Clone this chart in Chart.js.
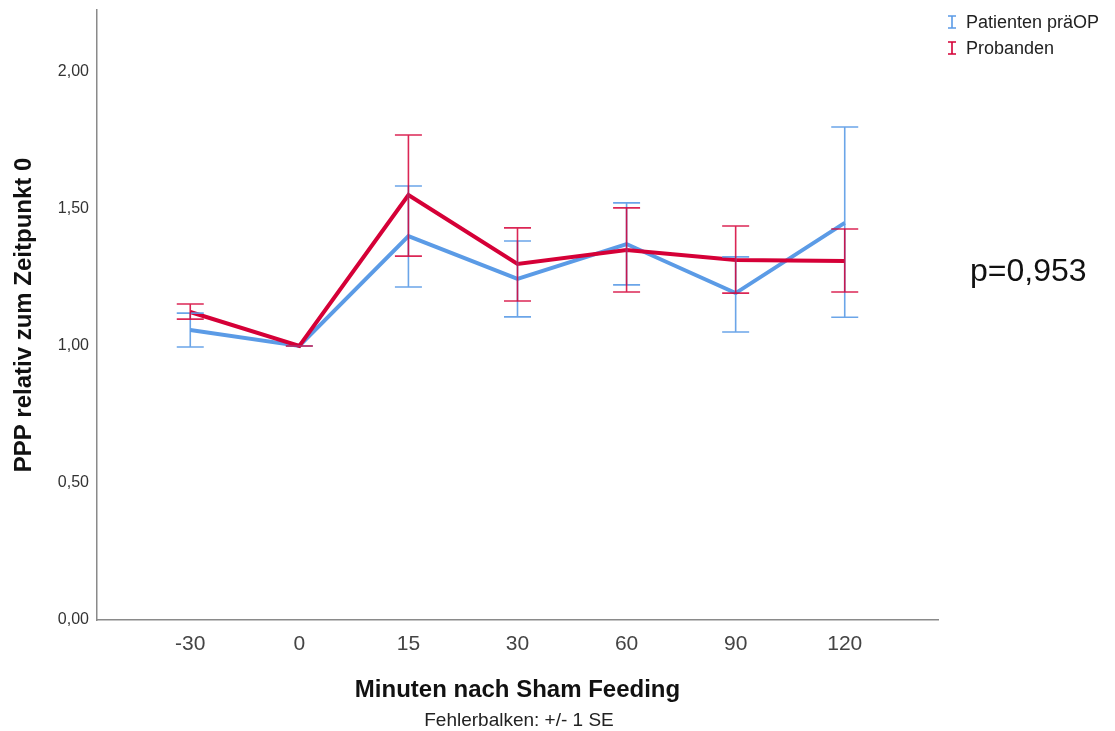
<!DOCTYPE html>
<html>
<head>
<meta charset="utf-8">
<script src="https://cdn.jsdelivr.net/npm/chart.js@4/dist/chart.umd.min.js"></script>
<style>
  html, body { margin: 0; padding: 0; background: #fff; }
  #wrap { position: relative; width: 1115px; height: 731px; font-family: "Liberation Sans", Arial, sans-serif; }
  #c { position: absolute; left: 0; top: 0; }
  .legend { position: absolute; left: 946px; top: 9px; font-size: 18px; color: #222; }
  .legend .row { display: flex; align-items: center; height: 26px; }
  .legend svg { margin-right: 8px; }
  #pval { position: absolute; left: 970px; top: 252px; font-size: 32px; color: #111; }
  #note { position: absolute; left: 369px; width: 300px; text-align: center; top: 709px; font-size: 19px; color: #222; }
</style>
</head>
<body>
<div id="wrap">
  <canvas id="c" width="1115" height="731"></canvas>
  <div class="legend">
    <div class="row"><svg width="12" height="16"><path d="M2 2H10M6 2V14M2 14H10" stroke="#5B9BE6" stroke-width="1.6" fill="none"/></svg><span>Patienten präOP</span></div>
    <div class="row"><svg width="12" height="16"><path d="M2 2H10M6 2V14M2 14H10" stroke="#D50037" stroke-width="1.6" fill="none"/></svg><span>Probanden</span></div>
  </div>
  <div id="pval">p=0,953</div>
  <div id="note">Fehlerbalken: +/- 1 SE</div>
</div>
<script>
const categories = ["-30", "0", "15", "30", "60", "90", "120"];
const patientenMean = [1.058, 1.000, 1.401, 1.245, 1.372, 1.193, 1.449];
const patientenLow  = [0.996, 1.000, 1.215, 1.106, 1.223, 1.051, 1.105];
const patientenHigh = [1.120, 1.000, 1.584, 1.383, 1.522, 1.325, 1.799];
const probandenMean = [1.124, 1.000, 1.551, 1.299, 1.350, 1.314, 1.310];
const probandenLow  = [1.098, 1.000, 1.328, 1.164, 1.197, 1.193, 1.197];
const probandenHigh = [1.153, 1.000, 1.770, 1.431, 1.504, 1.438, 1.427];
const yTicks = [0, 0.5, 1.0, 1.5, 2.0];

const BLUE = "#5B9BE6";
const RED = "#D50037";

function pts(arr) { return arr.map((v, i) => ({ x: i, y: v })); }

const errorBars = {
  id: "errorBars",
  afterDatasetsDraw(chart) {
    const { ctx, scales: { x, y } } = chart;
    const sets = [
      { lo: patientenLow, hi: patientenHigh, color: "rgba(91,155,230,0.9)" },
      { lo: probandenLow, hi: probandenHigh, color: "rgba(213,0,55,0.85)" }
    ];
    ctx.save();
    sets.forEach(s => {
      ctx.strokeStyle = s.color;
      ctx.lineWidth = 1.6;
      s.lo.forEach((lo, i) => {
        const px = x.getPixelForValue(i);
        const yl = y.getPixelForValue(lo);
        const yh = y.getPixelForValue(s.hi[i]);
        ctx.beginPath();
        ctx.moveTo(px, yl); ctx.lineTo(px, yh);
        ctx.moveTo(px - 13.5, yl); ctx.lineTo(px + 13.5, yl);
        ctx.moveTo(px - 13.5, yh); ctx.lineTo(px + 13.5, yh);
        ctx.stroke();
      });
    });
    ctx.restore();
  }
};

new Chart(document.getElementById("c"), {
  type: "line",
  data: {
    datasets: [
      { label: "Patienten präOP", data: pts(patientenMean), borderColor: BLUE, borderWidth: 4, pointRadius: 0, tension: 0, order: 2 },
      { label: "Probanden", data: pts(probandenMean), borderColor: RED, borderWidth: 4, pointRadius: 0, tension: 0, order: 1 }
    ]
  },
  options: {
    responsive: false,
    animation: false,
    events: [],
    layout: { padding: { left: 0, top: 10, right: 177, bottom: 0 } },
    plugins: { legend: { display: false }, tooltip: { enabled: false } },
    scales: {
      x: {
        type: "linear",
        min: -0.855,
        max: 6.855,
        afterBuildTicks: (s) => { s.ticks = categories.map((_, i) => ({ value: i })); },
        afterFit: (s) => { s.height = 111; s.paddingLeft = 0; s.paddingRight = 0; },
        grid: { display: false, drawTicks: false },
        border: { display: true, color: "#8a8a8a", width: 1.5 },
        ticks: {
          callback: (v) => categories[v],
          font: { family: "Liberation Sans", size: 21 },
          color: "#444",
          padding: 12,
          maxRotation: 0,
          autoSkip: false
        },
        title: {
          display: true,
          text: "Minuten nach Sham Feeding",
          font: { family: "Liberation Sans", size: 24, weight: "bold" },
          color: "#111",
          padding: { top: 0, bottom: 26 }
        }
      },
      y: {
        min: 0,
        max: 2.226,
        afterBuildTicks: (s) => { s.ticks = yTicks.map(v => ({ value: v })); },
        afterFit: (s) => { s.width = 97; s.paddingTop = 0; s.paddingBottom = 0; },
        grid: { display: false, drawTicks: false },
        border: { display: true, color: "#8a8a8a", width: 1.5 },
        ticks: {
          callback: (v) => v.toFixed(2).replace(".", ","),
          font: { family: "Liberation Sans", size: 16 },
          color: "#333",
          padding: 8
        },
        title: {
          display: true,
          text: "PPP relativ zum Zeitpunkt 0",
          font: { family: "Liberation Sans", size: 24, weight: "bold" },
          color: "#111",
          padding: { top: 10, bottom: 0 }
        }
      }
    }
  },
  plugins: [errorBars]
});
</script>
</body>
</html>
